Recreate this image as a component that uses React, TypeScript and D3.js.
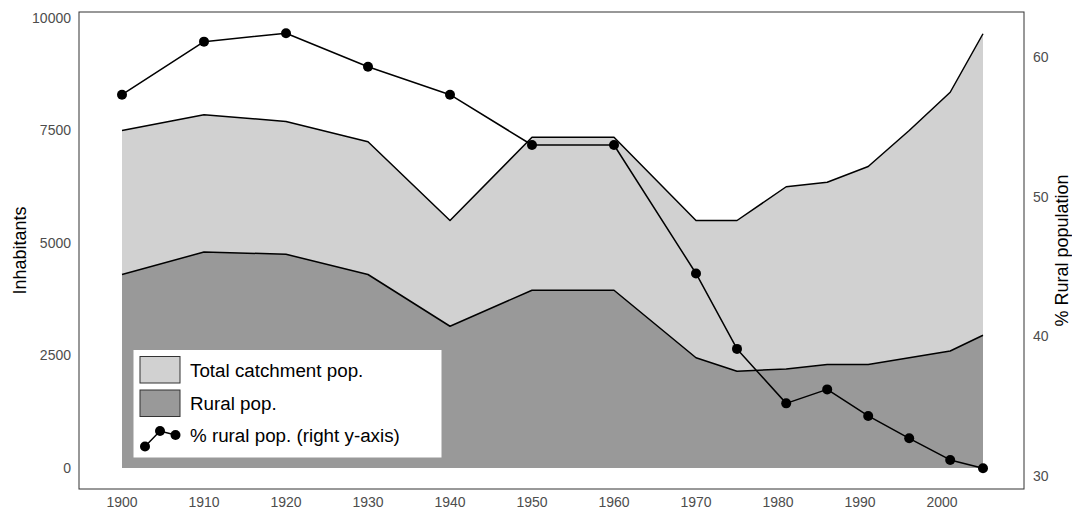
import React from 'react';
import * as d3 from 'd3';

const years = [1900, 1910, 1920, 1930, 1940, 1950, 1960, 1970, 1975, 1981, 1986, 1991, 1996, 2001, 2005];
const totalPop = [7500, 7850, 7700, 7250, 5500, 7350, 7350, 5500, 5500, 6250, 6350, 6700, 7500, 8350, 9650];
const ruralPop = [4300, 4800, 4750, 4300, 3150, 3950, 3950, 2450, 2150, 2200, 2300, 2300, 2450, 2600, 2950];
const ruralPct = [57.3, 61.1, 61.7, 59.3, 57.3, 53.7, 53.7, 44.5, 39.1, 35.2, 36.2, 34.3, 32.7, 31.15, 30.55];

const xTicks = [1900, 1910, 1920, 1930, 1940, 1950, 1960, 1970, 1980, 1990, 2000];
const leftTicks = [0, 2500, 5000, 7500, 10000];
const rightTicks = [30, 40, 50, 60];

const W = 1072;
const H = 510;
const panel = { left: 79, top: 12, right: 1024, bottom: 489 };
const FONT = '"Liberation Sans", Arial, Helvetica, sans-serif';
const LIGHT = '#d1d1d1';
const DARK = '#999999';

export default function App() {
  const x = d3.scaleLinear().domain([1900, 2005]).range([122, 983]);
  const yL = d3.scaleLinear().domain([0, 10000]).range([468, 18]);
  const yR = d3.scaleLinear().domain([30, 60]).range([476, 57]);

  const rows = years.map((yr, i) => ({ yr, total: totalPop[i], rural: ruralPop[i], pct: ruralPct[i] }));

  const totalArea = d3.area<any>().x(d => x(d.yr)).y0(yL(0)).y1(d => yL(d.total))(rows) as string;
  const totalLine = d3.line<any>().x(d => x(d.yr)).y(d => yL(d.total))(rows) as string;
  const ruralArea = d3.area<any>().x(d => x(d.yr)).y0(yL(0)).y1(d => yL(d.rural))(rows) as string;
  const ruralLine = d3.line<any>().x(d => x(d.yr)).y(d => yL(d.rural))(rows) as string;
  const pctLine = d3.line<any>().x(d => x(d.yr)).y(d => yR(d.pct))(rows) as string;

  const legendPts: [number, number][] = [[145, 446.5], [160, 431], [175.5, 435]];

  return (
    <svg width={W} height={H} style={{ position: 'absolute', left: 0, top: 0, fontFamily: FONT }}>
      <rect width={W} height={H} fill="#fff" />
      <path d={totalArea} fill={LIGHT} />
      <path d={ruralArea} fill={DARK} />
      <path d={totalLine} fill="none" stroke="#000" strokeWidth={1.5} strokeLinejoin="round" />
      <path d={ruralLine} fill="none" stroke="#000" strokeWidth={1.5} strokeLinejoin="round" />
      <path d={pctLine} fill="none" stroke="#000" strokeWidth={1.5} strokeLinejoin="round" />
      {rows.map(d => (
        <circle key={d.yr} cx={x(d.yr)} cy={yR(d.pct)} r={5} fill="#000" />
      ))}

      {/* legend */}
      <g>
        <rect x={133.5} y={350} width={308} height={107.5} fill="#fff" />
        <rect x={140} y={356.5} width={40} height={26.5} fill={LIGHT} stroke="#333" strokeWidth={1} />
        <rect x={140} y={390} width={40} height={26.5} fill={DARK} stroke="#333" strokeWidth={1} />
        <path d={d3.line()(legendPts) as string} fill="none" stroke="#000" strokeWidth={1.5} />
        {legendPts.map((p, i) => (
          <circle key={i} cx={p[0]} cy={p[1]} r={5} fill="#000" />
        ))}
        <text x={190} y={370} dy="0.35em" fontSize={18.8} fill="#000">Total catchment pop.</text>
        <text x={190} y={403} dy="0.35em" fontSize={18.8} fill="#000">Rural pop.</text>
        <text x={190} y={435} dy="0.35em" fontSize={18.8} fill="#000">% rural pop. (right y-axis)</text>
      </g>

      <rect x={panel.left} y={panel.top} width={panel.right - panel.left} height={panel.bottom - panel.top}
        fill="none" stroke="#333" strokeWidth={1} />

      {leftTicks.map(t => (
        <text key={t} x={71} y={yL(t)} dy="0.35em" textAnchor="end" fontSize={14} fill="#4d4d4d">{t}</text>
      ))}
      {rightTicks.map(t => (
        <text key={t} x={1033} y={yR(t)} dy="0.35em" textAnchor="start" fontSize={14} fill="#4d4d4d">{t}</text>
      ))}
      {xTicks.map(t => (
        <text key={t} x={x(t)} y={502} dy="0.35em" textAnchor="middle" fontSize={14} fill="#4d4d4d">{t}</text>
      ))}

      <text transform={`translate(20,${(panel.top + panel.bottom) / 2}) rotate(-90)`} dy="0.35em"
        textAnchor="middle" fontSize={18} fill="#000">Inhabitants</text>
      <text transform={`translate(1062,${(panel.top + panel.bottom) / 2}) rotate(-90)`} dy="0.35em"
        textAnchor="middle" fontSize={18} fill="#000">% Rural population</text>
    </svg>
  );
}
